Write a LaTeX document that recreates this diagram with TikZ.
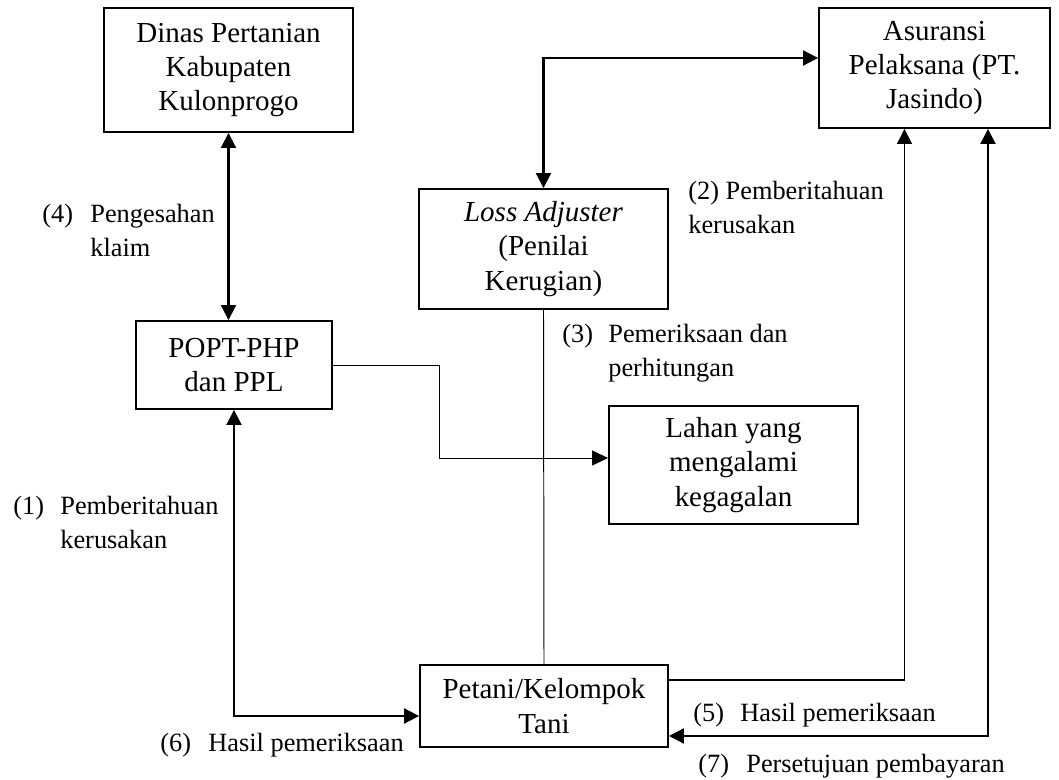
\documentclass[tikz,border=0pt]{standalone}
\usepackage{fontspec}
\setmainfont{Liberation Serif}
\usetikzlibrary{arrows.meta}

\begin{document}
\begin{tikzpicture}[x=0.02cm, y=-0.02cm,
    box/.style={draw, line width=1.1pt, align=center, inner sep=2pt, font=\fontsize{16.5}{19.5}\selectfont},
    lbl/.style={anchor=base west, inner sep=0pt, font=\fontsize{15}{18.8}\selectfont},
    thickline/.style={line width=1.15pt, >={Triangle[length=0.3cm, width=0.3cm]}},
    midline/.style={line width=0.8pt, >={Triangle[length=0.3cm, width=0.3cm]}},
    thinline/.style={line width=0.55pt, >={Triangle[length=0.32cm, width=0.3cm]}}]
    \useasboundingbox (0,0) rectangle (1059,780);

    % boxes
    \node[box, minimum width=4.98cm, minimum height=2.48cm] (dinas) at (228.5,70) {Dinas Pertanian\\Kabupaten\\Kulonprogo};
    \node[box, minimum width=4.62cm, minimum height=2.4cm] (asuransi) at (934.5,68) {Asuransi\\Pelaksana (PT.\\Jasindo)};
    \node[box, minimum width=4.98cm, minimum height=2.4cm] (loss) at (543.5,249) {\textit{Loss Adjuster}\\(Penilai\\Kerugian)};
    \node[box, minimum width=3.92cm, minimum height=1.76cm] (popt) at (234,365) {POPT-PHP\\dan PPL};
    \node[box, minimum width=4.98cm, minimum height=2.36cm] (lahan) at (733.5,465) {Lahan yang\\mengalami\\kegagalan};
    \node[box, minimum width=4.96cm, minimum height=1.64cm] (petani) at (544,706) {Petani/Kelompok\\Tani};

    % connectors
    \draw[thickline, <->] (dinas.south) -- (dinas.south |- popt.north);
    \draw[thickline, <->] (loss.north) |- ([yshift=0.2cm]asuransi.west);
    \draw[thinline, ->] (popt.east) -- ++(107,0) |- ([yshift=0.14cm]lahan.west);
    \draw[thinline] (loss.south) -- (petani.north);
    \draw[thickline, <->] (popt.south) |- ([yshift=-0.2cm]petani.west);
    \draw[midline, ->] ([yshift=0.52cm]petani.east) -| ([xshift=-0.6cm]asuransi.south);
    \draw[thickline, <->] ([xshift=1.07cm]asuransi.south) |- ([yshift=-0.6cm]petani.east);

    % labels
    \node[lbl] (n4) at (42,223) {(4)};
    \node[lbl] (t4) at (90,223) {\begin{tabular}[t]{@{}l@{}}Pengesahan\\klaim\end{tabular}};
    \node[lbl] (t2) at (688,200) {\begin{tabular}[t]{@{}l@{}}(2) Pemberitahuan\\kerusakan\end{tabular}};
    \node[lbl] (n3) at (562,343) {(3)};
    \node[lbl] (t3) at (608,343) {\begin{tabular}[t]{@{}l@{}}Pemeriksaan dan\\perhitungan\end{tabular}};
    \node[lbl] (n1) at (13,515) {(1)};
    \node[lbl] (t1) at (60,515) {\begin{tabular}[t]{@{}l@{}}Pemberitahuan\\kerusakan\end{tabular}};
    \node[lbl] (n6) at (160,751) {(6)};
    \node[lbl] (t6) at (208,751) {Hasil pemeriksaan};
    \node[lbl] (n5) at (693,722) {(5)};
    \node[lbl] (t5) at (740,722) {Hasil pemeriksaan};
    \node[lbl] (n7) at (698,772) {(7)};
    \node[lbl] (t7) at (746,772) {Persetujuan pembayaran};
\end{tikzpicture}
\end{document}
